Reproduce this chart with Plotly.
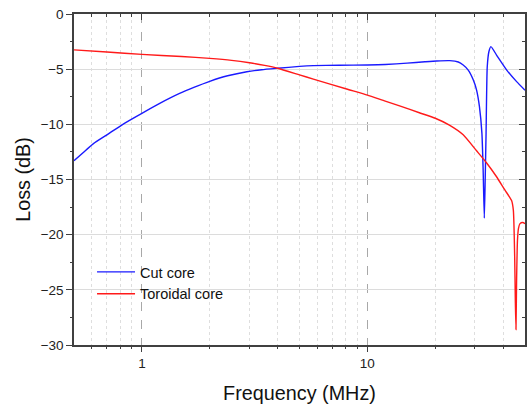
import plotly.graph_objects as go

# Insertion loss versus frequency for two common-mode choke cores
freq_cut = [0.5, 0.55, 0.61, 0.7, 0.83, 1.0, 1.2, 1.47, 1.7, 2.0, 2.4, 2.92, 3.4,
            4.0, 5.0, 5.76, 7.5, 10, 12, 15, 18, 20.3, 23.2, 25.3, 26.6, 28.0, 29.5,
            30.5, 31.4, 32.2, 32.6, 33.0, 33.3, 33.6, 34.0, 34.6, 35.3, 37.4, 41.5,
            45.9, 50]
loss_cut = [-13.3, -12.55, -11.75, -10.95, -9.95, -9.0, -8.1, -7.2, -6.65, -6.1,
            -5.6, -5.23, -5.05, -4.92, -4.75, -4.68, -4.64, -4.62, -4.58, -4.45,
            -4.33, -4.26, -4.23, -4.35, -4.62, -5.08, -5.98, -6.9, -8.4, -10.8,
            -14.0, -18.5, -15.0, -10.8, -4.8, -3.4, -2.96, -3.72, -5.08, -6.13, -6.9]

freq_tor = [0.5, 0.7, 1.0, 1.5, 2.0, 2.5, 3.0, 3.5, 4.0, 5.0, 5.76, 8.09, 10, 12,
            14, 17, 20, 23, 26.6, 30.5, 33.8, 37.4, 40.7, 43.6, 44.4, 45.0, 45.3,
            45.6, 45.9, 46.3, 46.8, 47.5, 48.9, 50]
loss_tor = [-3.25, -3.45, -3.66, -3.85, -4.02, -4.2, -4.42, -4.66, -4.92, -5.52,
            -5.9, -6.8, -7.35, -7.9, -8.35, -8.95, -9.45, -10.05, -10.95, -12.4,
            -13.5, -14.75, -15.95, -16.9, -17.8, -22.0, -26.0, -28.6, -24.0, -20.5,
            -19.4, -19.0, -18.9, -19.0]

x_major = [1, 10]
x_major_text = ["1", "10"]
x_minor = [0.6, 0.7, 0.8, 0.9, 2, 3, 4, 5, 6, 7, 8, 9, 20, 30, 40]
y_major = [0, -5, -10, -15, -20, -25, -30]
y_minor = [-2.5, -7.5, -12.5, -17.5, -22.5, -27.5]

x_range = [-0.30103, 1.69897]  # log10(0.5) .. log10(50)
y_range = [-30, 0]

axis_col = "#404040"
font_family = "Arial, Liberation Sans, sans-serif"
tick_font = dict(family=font_family, size=13.5, color="#222222")
title_font = dict(family=font_family, size=19.8, color="#111111")

fig = go.Figure()
fig.add_trace(go.Scatter(x=freq_cut, y=loss_cut, mode="lines", name="Cut core",
                         line=dict(color="#1a1aff", width=1.4, shape="spline",
                                   smoothing=0.5)))
fig.add_trace(go.Scatter(x=freq_tor, y=loss_tor, mode="lines", name="Toroidal core",
                         line=dict(color="#ff1a1a", width=1.4, shape="spline",
                                   smoothing=0.5)))

# empty traces so the extra tick/frame axes get their own subplots
for xa, ya in [("x2", "y"), ("x3", "y"), ("x4", "y"), ("x", "y2"), ("x", "y3"),
               ("x", "y4")]:
    fig.add_trace(go.Scatter(x=[], y=[], xaxis=xa, yaxis=ya, mode="lines",
                             showlegend=False, hoverinfo="skip"))

# shared settings for the decorative overlay axes (no labels)
overlay_x = dict(type="log", range=x_range, overlaying="x", anchor="y",
                 tickmode="array", showticklabels=False, tickcolor=axis_col,
                 zeroline=False, showline=False)
overlay_y = dict(range=y_range, overlaying="y", anchor="x",
                 tickmode="array", showticklabels=False, tickcolor=axis_col,
                 zeroline=False, showline=False, showgrid=False)

fig.update_layout(
    width=527, height=406,
    margin=dict(l=74, r=2, t=14, b=61),
    paper_bgcolor="white", plot_bgcolor="white",
    showlegend=True,
    legend=dict(x=0.04, y=0.269, xanchor="left", yanchor="top",
                bgcolor="rgba(0,0,0,0)", borderwidth=0, itemwidth=38,
                font=dict(family=font_family, size=14.5, color="#111111"),
                tracegroupgap=0),
    # bottom axis: decades with labels and dashed grid
    xaxis=dict(
        type="log", range=x_range,
        tickmode="array", tickvals=x_major, ticktext=x_major_text,
        ticks="outside", ticklen=5, tickwidth=1.3, tickcolor=axis_col,
        showline=True, linecolor=axis_col, linewidth=1.5,
        showgrid=True, gridcolor="#a8a8a8", griddash="dash", gridwidth=1,
        zeroline=False, tickfont=tick_font,
        title=dict(text="Frequency (MHz)", font=title_font, standoff=16),
    ),
    # bottom axis minor ticks with dotted grid
    xaxis3=dict(overlay_x, side="bottom", tickvals=x_minor,
                ticks="outside", ticklen=3, tickwidth=1.2,
                showgrid=True, gridcolor="#dedede", griddash="dot", gridwidth=1),
    # top mirror: major and minor ticks pointing inward
    xaxis2=dict(overlay_x, side="top", tickvals=x_major,
                ticks="inside", ticklen=6, tickwidth=1.3, showgrid=False,
                showline=True, linecolor=axis_col, linewidth=1.5),
    xaxis4=dict(overlay_x, side="top", tickvals=x_minor,
                ticks="inside", ticklen=3, tickwidth=1.2, showgrid=False),
    yaxis=dict(
        range=y_range, tickmode="array", tickvals=y_major,
        ticks="outside", ticklen=6, tickwidth=1.3, tickcolor=axis_col,
        showline=True, linecolor=axis_col, linewidth=1.5,
        showgrid=True, gridcolor="#dcdcdc", gridwidth=1,
        zeroline=False, tickfont=tick_font,
        title=dict(text="Loss (dB)", font=title_font, standoff=5),
    ),
    # right mirror: major ticks inward plus frame line
    yaxis2=dict(overlay_y, side="right", tickvals=y_major,
                ticks="inside", ticklen=6, tickwidth=1.3,
                showline=True, linecolor=axis_col, linewidth=1.5),
    # right minor ticks inward
    yaxis3=dict(overlay_y, side="right", tickvals=y_minor,
                ticks="inside", ticklen=3, tickwidth=1.2),
    # left minor ticks outward
    yaxis4=dict(overlay_y, side="left", tickvals=y_minor,
                ticks="outside", ticklen=3, tickwidth=1.2),
)

fig.write_html("out.html")
